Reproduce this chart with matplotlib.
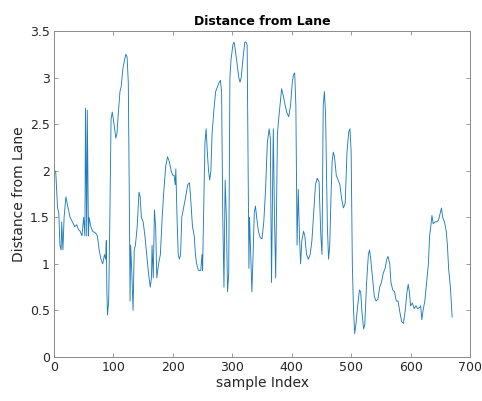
import matplotlib
matplotlib.use("Agg")
import matplotlib.pyplot as plt

sample_index = [0, 3, 6, 8, 10, 12, 13, 15, 17, 20, 23, 27, 31, 35, 38, 41, 44, 47, 50, 52,
    53, 55, 56, 58, 59, 62, 65, 70, 73, 76, 79, 82, 85, 87, 88, 89, 90, 92, 94, 96,
    98, 101, 104, 106, 108, 111, 113, 116, 119, 121, 123, 125, 127, 128, 129, 131, 133, 135, 137, 140,
    143, 145, 147, 150, 153, 156, 159, 162, 164, 165, 167, 169, 171, 173, 176, 179, 182, 185, 188, 191,
    194, 197, 200, 202, 204, 205, 207, 209, 211, 213, 215, 218, 221, 225, 228, 230, 233, 236, 238, 240,
    243, 247, 249, 250, 252, 254, 256, 258, 260, 262, 264, 266, 269, 272, 275, 278, 280, 282, 284, 286,
    288, 290, 292, 294, 296, 298, 301, 303, 305, 308, 311, 313, 315, 318, 321, 323, 325, 326, 328, 329,
    331, 333, 335, 337, 339, 341, 344, 347, 350, 353, 356, 359, 362, 364, 366, 369, 371, 373, 376, 378,
    381, 383, 386, 389, 392, 395, 398, 401, 403, 405, 407, 409, 411, 413, 415, 417, 420, 422, 425, 428,
    431, 434, 437, 440, 443, 446, 449, 451, 453, 455, 457, 460, 462, 464, 466, 468, 470, 472, 475, 478,
    481, 484, 487, 490, 493, 496, 498, 500, 502, 504, 506, 508, 511, 514, 516, 518, 521, 523, 526, 529,
    531, 533, 536, 539, 542, 545, 548, 551, 554, 557, 560, 562, 565, 567, 570, 573, 576, 579, 582, 585,
    588, 591, 594, 596, 598, 600, 603, 606, 609, 612, 615, 617, 619, 621, 624, 627, 630, 632, 634, 636,
    638, 641, 644, 647, 650, 652, 654, 657, 660, 662, 664, 667, 670]

distance = [2.02, 1.98, 1.6, 1.55, 1.2, 1.15, 1.45, 1.15, 1.5, 1.72, 1.62, 1.5, 1.45, 1.4, 1.42, 1.37, 1.35, 1.3, 1.5, 1.3,
    2.67, 1.3, 2.65, 1.3, 1.5, 1.4, 1.35, 1.33, 1.3, 1.15, 1.05, 1.0, 1.1, 1.05, 1.25, 0.7, 0.45, 0.6, 1.5, 2.55,
    2.63, 2.5, 2.35, 2.4, 2.6, 2.85, 2.9, 3.1, 3.2, 3.25, 3.22, 2.95, 1.5, 0.6, 1.2, 0.9, 0.5, 1.15, 1.2, 1.4,
    1.77, 1.72, 1.5, 1.45, 1.3, 1.1, 0.9, 0.75, 0.85, 1.2, 0.85, 1.58, 1.4, 0.85, 1.0, 1.1, 1.5, 1.8, 2.05, 2.15,
    2.1, 2.0, 1.95, 1.95, 1.85, 2.02, 1.5, 1.1, 1.05, 1.1, 1.5, 1.6, 1.7, 1.85, 1.87, 1.7, 1.4, 1.3, 1.1, 1.0,
    0.93, 0.93, 1.1, 0.93, 1.6, 2.3, 2.45, 2.2, 2.0, 1.9, 2.0, 2.4, 2.65, 2.85, 2.9, 2.95, 2.97, 2.85, 1.5, 0.75,
    1.9, 1.5, 0.7, 0.9, 3.0, 3.2, 3.35, 3.38, 3.3, 3.15, 3.0, 2.95, 3.0, 3.2, 3.38, 3.38, 3.35, 2.5, 0.95, 1.5,
    1.1, 0.7, 1.1, 1.55, 1.62, 1.5, 1.35, 1.28, 1.27, 1.45, 1.8, 2.3, 2.45, 2.35, 0.8, 2.45, 1.5, 0.85, 2.4, 2.55,
    2.75, 2.88, 2.8, 2.7, 2.62, 2.58, 2.7, 2.95, 3.03, 3.05, 2.7, 1.2, 1.8, 1.3, 1.0, 1.25, 1.35, 1.3, 1.1, 1.05,
    1.1, 1.25, 1.55, 1.85, 1.92, 1.88, 1.3, 1.1, 2.7, 2.85, 2.6, 1.4, 1.05, 1.2, 1.7, 2.1, 2.2, 2.15, 1.95, 1.9,
    1.85, 1.7, 1.6, 1.65, 2.2, 2.42, 2.45, 2.2, 1.0, 0.5, 0.25, 0.35, 0.55, 0.72, 0.7, 0.5, 0.3, 0.35, 0.8, 1.1,
    1.15, 1.05, 0.85, 0.65, 0.6, 0.62, 0.75, 0.8, 0.9, 0.95, 1.05, 1.08, 1.0, 0.8, 0.72, 0.7, 0.6, 0.6, 0.48, 0.38,
    0.36, 0.5, 0.7, 0.78, 0.7, 0.55, 0.58, 0.52, 0.55, 0.52, 0.53, 0.55, 0.4, 0.5, 0.6, 0.8, 1.0, 1.3, 1.4, 1.52,
    1.43, 1.45, 1.45, 1.47, 1.55, 1.6, 1.5, 1.45, 1.35, 1.2, 0.95, 0.75, 0.43]

x_ticks = [0, 100, 200, 300, 400, 500, 600, 700]
y_ticks = [0, 0.5, 1, 1.5, 2, 2.5, 3, 3.5]

fig = plt.figure(figsize=(4.82, 4.01), dpi=100)
ax = fig.add_axes([54/482, 44/401, 416/482, 326/401])
ax.plot(sample_index, distance, color="#1f7dbf", linewidth=0.65)
ax.set_xlim(0, 700)
ax.set_ylim(0, 3.5)
ax.set_xticks(x_ticks)
ax.set_yticks(y_ticks)
ax.set_yticklabels(["0", "0.5", "1", "1.5", "2", "2.5", "3", "3.5"])
ax.tick_params(direction="in", top=True, right=True, length=3, width=0.6,
               color="#8a8a8a", labelcolor="#262626", labelsize=9, pad=3)
for s in ax.spines.values():
    s.set_color("#8a8a8a")
    s.set_linewidth(0.7)
ax.set_xlabel("sample Index", fontsize=10, color="#262626", labelpad=1)
ax.set_ylabel("Distance from Lane", fontsize=10, color="#262626", labelpad=3)
ax.set_title("Distance from Lane", fontsize=9, fontweight="bold", pad=4)
fig.savefig("out.png", dpi=100)
